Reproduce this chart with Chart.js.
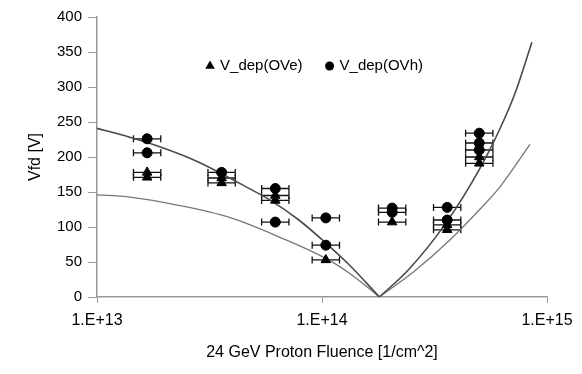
<!DOCTYPE html>
<html>
<head>
<meta charset="utf-8">
<script src="https://cdn.jsdelivr.net/npm/chart.js@4/dist/chart.umd.min.js"></script>
<style>
  html, body { margin: 0; padding: 0; background: #fff; }
  #wrap { width: 582px; height: 374px; }
</style>
</head>
<body>
<div id="wrap"><canvas id="vfdChart"></canvas></div>
<script>
const fluenceOVe = [1.67e13, 1.67e13, 3.58e13, 3.58e13, 6.2e13, 6.2e13, 1.04e14, 2.05e14, 3.6e14, 3.6e14, 5.0e14, 5.0e14];
const vdepOVe    = [178, 171, 170, 163, 145, 138, 53, 107, 103, 96, 200, 191];
const fluenceOVh = [1.67e13, 1.67e13, 3.58e13, 6.2e13, 6.2e13, 1.04e14, 1.04e14, 2.05e14, 2.05e14, 3.6e14, 3.6e14, 5.0e14, 5.0e14, 5.0e14];
const vdepOVh    = [226, 206, 178, 155, 107, 113, 74, 127, 121, 128, 110, 234, 220, 210];
const xErrFactor = 1.15; // horizontal error bar: fluence / 1.15 .. fluence * 1.15

// Model curves, split at the type inversion point
const upperLeftFluence  = [1e13, 1.375e13, 1.93e13, 2.82e13, 4.26e13, 5.98e13, 7.89e13, 1e14, 1.32e14, 1.8e14];
const upperLeftV        = [241, 229, 214, 193, 163, 137, 110, 82, 46, 0];
const upperRightFluence = [1.8e14, 2.44e14, 3.58e14, 5.02e14, 6.17e14, 7.19e14, 8.57e14];
const upperRightV       = [0, 40, 107, 183, 240, 290, 364];
const lowerLeftFluence  = [1e13, 1.375e13, 2.3e13, 3.85e13, 6.43e13, 1.07e14, 1.39e14, 1.8e14];
const lowerLeftV        = [146, 143, 131, 114, 86, 53, 29, 0];
const lowerRightFluence = [1.8e14, 2.58e14, 3.69e14, 5.02e14, 6.17e14, 8.4e14];
const lowerRightV       = [0, 37, 81, 125, 157, 218];

const xTickValues = [1e13, 1e14, 1e15];
const xTickLabels = ['1.E+13', '1.E+14', '1.E+15'];

const pts = (xs, ys) => xs.map((x, i) => ({ x: x, y: ys[i] }));

Chart.defaults.font.family = "'Liberation Sans', Arial, sans-serif";
Chart.defaults.font.size = 15;
Chart.defaults.color = '#000';

// horizontal error bars with caps
const errorBars = {
    id: 'errorBars',
    beforeDatasetsDraw(chart) {
        const ctx = chart.ctx;
        const xs = chart.scales.x, ys = chart.scales.y;
        ctx.save();
        ctx.strokeStyle = '#111';
        ctx.lineWidth = 1.3;
        chart.data.datasets.forEach(ds => {
            if (!ds.xErr) return;
            ds.data.forEach(p => {
                const py = ys.getPixelForValue(p.y);
                const x0 = xs.getPixelForValue(p.x / ds.xErr);
                const x1 = xs.getPixelForValue(p.x * ds.xErr);
                ctx.beginPath();
                ctx.moveTo(x0, py); ctx.lineTo(x1, py);
                ctx.moveTo(x0, py - 3.5); ctx.lineTo(x0, py + 3.5);
                ctx.moveTo(x1, py - 3.5); ctx.lineTo(x1, py + 3.5);
                ctx.stroke();
            });
        });
        ctx.restore();
    }
};

// one-row legend inside the plot area, near the top
const innerLegend = {
    id: 'innerLegend',
    afterDraw(chart) {
        const ctx = chart.ctx;
        const area = chart.chartArea;
        const items = chart.data.datasets.filter(ds => ds.inLegend);
        const marker = 10, gap = 5, spacing = 22;
        ctx.save();
        ctx.font = "15px 'Liberation Sans', Arial, sans-serif";
        ctx.textBaseline = 'middle';
        ctx.fillStyle = '#000';
        const widths = items.map(ds => marker + gap + ctx.measureText(ds.label).width);
        const total = widths.reduce((a, b) => a + b, 0) + spacing * (items.length - 1);
        let x = (area.left + area.right) / 2 - 8 - total / 2;
        const y = area.top + 49;
        items.forEach((ds, i) => {
            Chart.helpers.drawPoint(ctx, { pointStyle: ds.pointStyle, radius: ds.pointStyle === 'triangle' ? 5.5 : 4.5, borderWidth: 0 }, x + marker / 2, y);
            ctx.fillStyle = '#000';
            ctx.fillText(ds.label, x + marker + gap, y);
            x += widths[i] + spacing;
        });
        ctx.restore();
    }
};

const curve = (data, color, width) => ({
    data: data,
    showLine: true,
    borderColor: color,
    borderWidth: width,
    pointRadius: 0,
    cubicInterpolationMode: 'monotone',
    fill: false
});

const ctx = document.getElementById('vfdChart').getContext('2d');
const vfdChart = new Chart(ctx, {
    type: 'scatter',
    data: {
        datasets: [
            {
                label: 'V_dep(OVe)',
                data: pts(fluenceOVe, vdepOVe),
                pointStyle: 'triangle',
                pointRadius: 5.5,
                backgroundColor: '#000',
                borderColor: '#000',
                xErr: xErrFactor,
                inLegend: true
            },
            {
                label: 'V_dep(OVh)',
                data: pts(fluenceOVh, vdepOVh),
                pointStyle: 'circle',
                pointRadius: 5,
                backgroundColor: '#000',
                borderColor: '#000',
                xErr: xErrFactor,
                inLegend: true
            },
            curve(pts(upperLeftFluence, upperLeftV), '#4a4a4a', 1.6),
            curve(pts(upperRightFluence, upperRightV), '#4a4a4a', 1.6),
            curve(pts(lowerLeftFluence, lowerLeftV), '#777', 1.3),
            curve(pts(lowerRightFluence, lowerRightV), '#777', 1.3)
        ]
    },
    options: {
        responsive: true,
        maintainAspectRatio: false,
        animation: false,
        layout: { padding: { left: 26, right: 35, top: 17, bottom: 10 } },
        plugins: {
            tooltip: { enabled: false },
            legend: { display: false }
        },
        scales: {
            x: {
                type: 'logarithmic',
                min: 1e13,
                max: 1e15,
                afterBuildTicks: scale => { scale.ticks = xTickValues.map(v => ({ value: v })); },
                afterFit: scale => { scale.height = 67; },
                ticks: {
                    autoSkip: false,
                    maxRotation: 0,
                    padding: 8,
                    font: { size: 16 },
                    callback: (v, i) => xTickLabels[i]
                },
                grid: { drawOnChartArea: false, drawTicks: true, tickLength: 6, color: '#999' },
                border: { display: true, color: '#999', width: 1.5 },
                title: {
                    display: true,
                    text: '24 GeV Proton Fluence [1/cm^2]',
                    font: { size: 16 },
                    padding: { top: 0, bottom: 2 }
                }
            },
            y: {
                min: 0,
                max: 400,
                afterFit: scale => { scale.width = 71; },
                ticks: { stepSize: 50, padding: 6, font: { size: 15 } },
                grid: { drawOnChartArea: false, drawTicks: true, tickLength: 9, color: '#999' },
                border: { display: true, color: '#999', width: 1.5 },
                title: {
                    display: true,
                    text: 'Vfd [V]',
                    font: { size: 16 },
                    padding: { top: 0, bottom: 4 }
                }
            }
        }
    },
    plugins: [errorBars, innerLegend]
});
</script>
</body>
</html>
